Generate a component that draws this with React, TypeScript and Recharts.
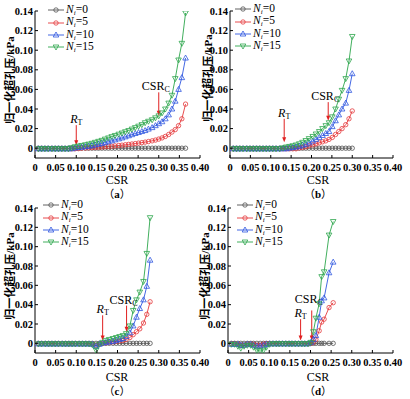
import React from "react";
import { LineChart, Line, XAxis, YAxis, ReferenceLine } from "recharts";

// CSR steps
const csrA = [0.008, 0.016, 0.024, 0.032, 0.041, 0.049, 0.057, 0.065, 0.073, 0.081, 0.089, 0.097, 0.105, 0.113, 0.122, 0.130, 0.138, 0.146, 0.154, 0.162, 0.170, 0.178, 0.186, 0.194, 0.203, 0.211, 0.219, 0.227, 0.235, 0.243, 0.251, 0.259, 0.267, 0.275, 0.284, 0.292, 0.300, 0.308, 0.316, 0.324, 0.332, 0.340, 0.348, 0.356, 0.365];
const csrB = [0.008, 0.016, 0.024, 0.032, 0.041, 0.049, 0.057, 0.065, 0.073, 0.081, 0.089, 0.097, 0.105, 0.113, 0.122, 0.130, 0.138, 0.146, 0.154, 0.162, 0.170, 0.178, 0.186, 0.194, 0.203, 0.211, 0.219, 0.227, 0.235, 0.243, 0.251, 0.259, 0.267, 0.275, 0.284, 0.292, 0.300];
const csrC = [0.008, 0.016, 0.025, 0.033, 0.041, 0.049, 0.057, 0.066, 0.074, 0.082, 0.090, 0.098, 0.107, 0.115, 0.123, 0.131, 0.139, 0.148, 0.156, 0.164, 0.172, 0.180, 0.189, 0.197, 0.205, 0.213, 0.221, 0.230, 0.238, 0.246, 0.254, 0.263, 0.271, 0.279];
const csrD = [0.008, 0.016, 0.024, 0.031, 0.039, 0.047, 0.055, 0.062, 0.070, 0.078, 0.086, 0.093, 0.101, 0.109, 0.117, 0.124, 0.132, 0.140, 0.148, 0.155, 0.163, 0.171, 0.179, 0.186, 0.194, 0.201, 0.207, 0.213, 0.221, 0.227, 0.233, 0.245, 0.255];

// (a)
const a0 = [0, 0, 0, 0, 0, 0, 0, 0, 0, 0, 0, 0, 0, 0, 0, 0, 0, 0, 0, 0, 0, 0, 0, 0, 0, 0, 0, 0, 0, 0, 0, 0, 0, 0, 0, 0, 0, 0, 0, 0, 0, 0, 0, 0, 0];
const a5 = [-0.0006, -0.0006, -0.0006, -0.0006, -0.0006, -0.0006, -0.0006, -0.0006, -0.0006, -0.0006, -0.0006, -0.0006, -0.0004, 0, 0.0002, 0.0004, 0.0006, 0.0008, 0.001, 0.0012, 0.0015, 0.0018, 0.002, 0.0024, 0.0028, 0.0031, 0.0035, 0.0039, 0.0043, 0.0047, 0.0052, 0.0057, 0.0062, 0.0068, 0.0075, 0.0083, 0.0093, 0.0105, 0.012, 0.014, 0.0165, 0.019, 0.023, 0.030, 0.045];
const a10 = [-0.0006, -0.0006, -0.0006, -0.0006, -0.0006, -0.0006, -0.0006, -0.0006, -0.0006, -0.0006, -0.0006, 0.0002, 0.0006, 0.001, 0.0015, 0.002, 0.0026, 0.0033, 0.004, 0.0048, 0.0057, 0.0066, 0.0075, 0.0085, 0.0095, 0.0105, 0.0116, 0.0127, 0.0138, 0.015, 0.016, 0.017, 0.018, 0.0195, 0.021, 0.023, 0.025, 0.027, 0.030, 0.034, 0.040, 0.048, 0.060, 0.072, 0.092];
const a15 = [-0.0006, -0.0006, -0.0006, -0.0006, -0.0006, -0.0006, -0.0006, -0.0006, -0.0006, -0.0006, 0.0005, 0.0015, 0.0022, 0.0028, 0.0035, 0.0042, 0.005, 0.006, 0.007, 0.008, 0.0093, 0.0105, 0.0118, 0.013, 0.0143, 0.0155, 0.0168, 0.018, 0.0195, 0.021, 0.0225, 0.024, 0.026, 0.0275, 0.029, 0.031, 0.033, 0.036, 0.040, 0.046, 0.054, 0.071, 0.090, 0.107, 0.138];

// (b)
const b0 = [0, 0, 0, 0, 0, 0, 0, 0, 0, 0, 0, 0, 0, 0, 0, 0, 0, 0, 0, 0, 0, 0, 0, 0, 0, 0, 0, 0, 0, 0, 0, 0, 0, 0, 0, 0, 0];
const b5 = [-0.0006, -0.0006, -0.0006, -0.0006, -0.0006, -0.0006, -0.0006, -0.0006, -0.0006, -0.0006, -0.0006, -0.0006, -0.0006, -0.0006, -0.0006, -0.0006, -0.0006, -0.0006, -0.0006, -0.0006, 0.0003, 0.0008, 0.0015, 0.0025, 0.0035, 0.0045, 0.0055, 0.0065, 0.0075, 0.009, 0.011, 0.014, 0.017, 0.020, 0.024, 0.030, 0.038];
const b10 = [-0.0006, -0.0006, -0.0006, -0.0006, -0.0006, -0.0006, -0.0006, -0.0006, -0.0006, -0.0006, -0.0006, -0.0006, -0.0006, -0.0006, -0.0006, -0.0006, -0.0006, 0.0002, 0.0006, 0.0012, 0.002, 0.003, 0.004, 0.0055, 0.0072, 0.009, 0.011, 0.013, 0.015, 0.017, 0.022, 0.028, 0.034, 0.040, 0.046, 0.059, 0.076];
const b15 = [-0.0006, -0.0006, -0.0006, -0.0006, -0.0006, -0.0006, -0.0006, -0.0006, -0.0006, -0.0006, -0.0006, -0.0006, -0.0006, -0.0006, -0.0006, 0.0003, 0.0012, 0.0018, 0.0025, 0.0033, 0.0045, 0.006, 0.0078, 0.0098, 0.012, 0.0145, 0.017, 0.020, 0.023, 0.026, 0.032, 0.040, 0.050, 0.059, 0.071, 0.089, 0.114];

// (c)
const c0 = [0, 0, 0, 0, 0, 0, 0, 0, 0, 0, 0, 0, 0, 0, 0, 0, 0, 0, 0, 0, 0, 0, 0, 0, 0, 0, 0, 0, 0, 0, 0, 0, 0, 0];
const c5 = [-0.0006, -0.0006, -0.0006, -0.0006, -0.0006, -0.0006, -0.0006, -0.0006, -0.0006, -0.0006, -0.0006, -0.0006, -0.0006, -0.0006, -0.0006, -0.0006, -0.001, -0.002, -0.001, 0, 0.0005, 0.001, 0.0015, 0.002, 0.0025, 0.003, 0.004, 0.006, 0.009, 0.012, 0.015, 0.021, 0.030, 0.043];
const c10 = [-0.0006, -0.0006, -0.0006, -0.0006, -0.0006, -0.0006, -0.0006, -0.0006, -0.0006, -0.0006, -0.0006, -0.0006, -0.0006, -0.0006, -0.0006, -0.0006, -0.001, -0.003, -0.001, 0.0003, 0.001, 0.0015, 0.002, 0.003, 0.004, 0.005, 0.007, 0.011, 0.018, 0.027, 0.036, 0.045, 0.059, 0.086];
const c15 = [-0.0006, -0.0006, -0.0006, -0.0006, -0.0006, -0.0006, -0.0006, -0.0006, -0.0006, -0.0006, -0.0006, -0.0006, -0.0006, -0.0006, -0.0006, -0.0006, -0.0015, -0.007, -0.001, 0.001, 0.003, 0.004, 0.005, 0.006, 0.007, 0.008, 0.010, 0.018, 0.034, 0.045, 0.053, 0.064, 0.093, 0.130];

// (d)
const d0 = [0, 0, 0, 0, 0, 0, 0, 0, 0, 0, 0, 0, 0, 0, 0, 0, 0, 0, 0, 0, 0, 0, 0, 0, 0, 0, 0, 0, 0, 0, 0, 0, 0];
const d5 = [-0.0005, -0.0005, -0.001, -0.002, -0.002, -0.001, -0.001, -0.001, -0.002, -0.002, -0.001, -0.0005, -0.0005, -0.0005, -0.0005, -0.0005, -0.0005, -0.0005, -0.0005, -0.0005, -0.0005, -0.0005, -0.0005, -0.0005, -0.0005, 0, 0.001, 0.004, 0.013, 0.022, 0.025, 0.037, 0.042];
const d10 = [-0.001, -0.001, -0.001, -0.002, -0.002, -0.001, -0.001, -0.002, -0.003, -0.003, -0.002, -0.001, -0.0005, -0.0005, -0.0005, -0.0005, -0.0005, -0.0005, -0.0005, -0.0005, -0.0005, -0.0005, -0.0005, -0.0005, -0.0005, 0.001, 0.004, 0.008, 0.027, 0.044, 0.047, 0.073, 0.084];
const d15 = [-0.001, -0.001, -0.003, -0.005, -0.003, -0.002, -0.002, -0.004, -0.007, -0.008, -0.007, -0.004, -0.001, -0.0005, -0.0005, -0.0005, -0.0005, -0.0005, -0.0005, -0.0005, -0.0005, -0.0005, -0.0005, -0.0005, -0.0005, 0.001, 0.012, 0.026, 0.041, 0.069, 0.074, 0.112, 0.126];

const xTicks = [0, 0.05, 0.1, 0.15, 0.2, 0.25, 0.3, 0.35, 0.4];
const yTicks = [0, 0.02, 0.04, 0.06, 0.08, 0.1, 0.12, 0.14];

const SERIES = [
  { key: "n0", label: "0", color: "#505050", shape: "circle" },
  { key: "n5", label: "5", color: "#e5393b", shape: "circle" },
  { key: "n10", label: "10", color: "#2f57e0", shape: "up" },
  { key: "n15", label: "15", color: "#2da64c", shape: "down" },
];

const toRows = (csr: number[], s0: number[], s5: number[], s10: number[], s15: number[]) =>
  csr.map((c, i) => ({ csr: c, n0: s0[i], n5: s5[i], n10: s10[i], n15: s15[i] }));

const SERIF = '"Liberation Serif", "Times New Roman", serif';
const CJK = '"Liberation Serif", "Noto Sans CJK SC", serif';

const marker = (shape: string, cx: number, cy: number, color: string, key?: string) => {
  if (shape === "up")
    return <path key={key} d={`M${cx},${cy - 3}L${cx + 2.8},${cy + 2}L${cx - 2.8},${cy + 2}Z`} fill="none" stroke={color} strokeWidth={0.8} />;
  if (shape === "down")
    return <path key={key} d={`M${cx},${cy + 3}L${cx + 2.8},${cy - 2}L${cx - 2.8},${cy - 2}Z`} fill="none" stroke={color} strokeWidth={0.8} />;
  return <circle key={key} cx={cx} cy={cy} r={2.2} fill="none" stroke={color} strokeWidth={0.8} />;
};

const YTick = (p: any) => {
  const { x, y, payload } = p;
  const v = payload.value;
  return (
    <g>
      <line x1={x + 2} x2={x + 5} y1={y} y2={y} stroke="#000" />
      <text x={x} y={y} dy={3.5} textAnchor="end" fontSize={10.5} fontWeight="bold" fontFamily={SERIF} fill="#000">
        {v === 0 ? "0" : v.toFixed(2)}
      </text>
    </g>
  );
};

const XTick = (p: any) => {
  const { x, y, payload } = p;
  const v = payload.value;
  return (
    <g>
      <line x1={x} x2={x} y1={y - 3} y2={y - 6} stroke="#000" />
      <text x={x} y={y} dy={10} textAnchor="middle" fontSize={10.5} fontWeight="bold" fontFamily={SERIF} fill="#000">
        {v === 0 ? "0" : v.toFixed(2)}
      </text>
    </g>
  );
};

const renderArrow = (sp: any, kind: string, lift: number) => {
  const { x1, y1, x2, y2 } = sp;
  return (
    <g>
      <line x1={x1} y1={y1} x2={x2} y2={y2 - 4} stroke="#e02020" strokeWidth={1} />
      <path d={`M${x2 - 2},${y2 - 5}L${x2 + 2},${y2 - 5}L${x2},${y2}Z`} fill="#e02020" />
      {kind === "RT" ? (
        <text x={x1} y={y1 - 2 - lift} textAnchor="middle" fontSize={12} fontFamily={SERIF} fill="#000">
          <tspan fontStyle="italic">R</tspan>
          <tspan fontSize={8} dy={2}>T</tspan>
        </text>
      ) : (
        <text x={x1 - 3} y={y1 - 2 - lift} textAnchor="middle" fontSize={12} fontFamily={SERIF} fill="#000">
          CSR<tspan fontSize={8} dy={2}>C</tspan>
        </text>
      )}
    </g>
  );
};

const PANELS = [
  {
    left: 0, top: 0, width: 215, height: 200, yWidth: 35,
    margin: { top: 11, right: 15, bottom: 22, left: 0 },
    rows: toRows(csrA, a0, a5, a10, a15),
    arrows: [{ kind: "RT", x: 0.1, y1: 0.0235, y2: 0.003, lift: 0 }, { kind: "C", x: 0.3, y1: 0.057, y2: 0.033, lift: 0 }],
    legend: { x: 48, y: 4 }, ylab: { x: 9, y: 80 }, cap: { x: 117, y: 180 }, letter: "a",
  },
  {
    left: 205, top: 0, width: 205, height: 200, yWidth: 25,
    margin: { top: 11, right: 17, bottom: 22, left: 0 },
    rows: toRows(csrB, b0, b5, b10, b15),
    arrows: [{ kind: "RT", x: 0.133, y1: 0.03, y2: 0.006, lift: 0 }, { kind: "C", x: 0.241, y1: 0.047, y2: 0.028, lift: 0 }],
    legend: { x: 235, y: 3 }, ylab: { x: 207, y: 78 }, cap: { x: 318, y: 180 }, letter: "b",
  },
  {
    left: 0, top: 200, width: 215, height: 199, yWidth: 35,
    margin: { top: 8, right: 15, bottom: 26, left: 0 },
    rows: toRows(csrC, c0, c5, c10, c15),
    arrows: [{ kind: "RT", x: 0.164, y1: 0.029, y2: 0.003, lift: 0 }, { kind: "C", x: 0.222, y1: 0.039, y2: 0.012, lift: 0 }],
    legend: { x: 43, y: 199 }, ylab: { x: 9, y: 276 }, cap: { x: 117, y: 377 }, letter: "c",
  },
  {
    left: 205, top: 200, width: 205, height: 199, yWidth: 23,
    margin: { top: 8, right: 17, bottom: 26, left: 0 },
    rows: toRows(csrD, d0, d5, d10, d15),
    arrows: [{ kind: "RT", x: 0.176, y1: 0.025, y2: 0.003, lift: 0 }, { kind: "C", x: 0.203, y1: 0.034, y2: 0.003, lift: 5 }],
    legend: { x: 237, y: 199 }, ylab: { x: 204, y: 276 }, cap: { x: 318, y: 377 }, letter: "d",
  },
];

const Legend4 = ({ x, y }: { x: number; y: number }) => (
  <div style={{ position: "absolute", left: x, top: y, fontFamily: SERIF, fontSize: 11.5, lineHeight: "12.4px" }}>
    {SERIES.map((s) => (
      <div key={s.key} style={{ height: 12.4, display: "flex", alignItems: "center", whiteSpace: "nowrap" }}>
        <svg width={16} height={8}>
          <line x1={0} x2={16} y1={4} y2={4} stroke={s.color} strokeWidth={0.9} />
          {marker(s.shape, 8, 4, s.color)}
        </svg>
        <span style={{ marginLeft: 2 }}>
          <i>N</i>
          <i style={{ fontSize: 7, position: "relative", top: 2 }}>i</i>={s.label}
        </span>
      </div>
    ))}
  </div>
);

const centered = (x: number, y: number, extra: React.CSSProperties = {}): React.CSSProperties => ({
  position: "absolute", left: x, top: y, transform: "translate(-50%, -50%)", whiteSpace: "nowrap", ...extra,
});

const App = () => (
  <div style={{ position: "absolute", left: 0, top: 0, width: 410, height: 399, background: "#fff" }}>
    {PANELS.map((p) => (
      <div key={p.letter} style={{ position: "absolute", left: p.left, top: p.top }}>
        <LineChart width={p.width} height={p.height} data={p.rows} margin={p.margin}>
          <XAxis dataKey="csr" type="number" domain={[0, 0.4]} ticks={xTicks} interval={0} allowDataOverflow
            height={20} axisLine={{ stroke: "#000" }} tickLine={false} tickSize={0} tickMargin={3} tick={XTick} />
          <YAxis type="number" domain={[-0.01, 0.14]} ticks={yTicks} interval={0} allowDataOverflow
            width={p.yWidth} axisLine={{ stroke: "#000" }} tickLine={false} tickSize={0} tickMargin={2} tick={YTick} />
          {SERIES.map((s) => (
            <Line key={s.key} dataKey={s.key} type="linear" stroke={s.color} strokeWidth={0.9}
              isAnimationActive={false} activeDot={false}
              dot={(d: any) => (d.cy == null ? <g key={`${s.key}-${d.index}`} /> : marker(s.shape, d.cx, d.cy, s.color, `${s.key}-${d.index}`))} />
          ))}
          {p.arrows.map((a) => (
            <ReferenceLine key={a.kind} segment={[{ x: a.x, y: a.y1 }, { x: a.x, y: a.y2 }]} stroke="#e02020"
              shape={(sp: any) => renderArrow(sp, a.kind, a.lift)} />
          ))}
        </LineChart>
      </div>
    ))}
    {PANELS.map((p) => (
      <React.Fragment key={`t-${p.letter}`}>
        <Legend4 x={p.legend.x} y={p.legend.y} />
        <div style={centered(p.ylab.x, p.ylab.y, { transform: "translate(-50%, -50%) rotate(-90deg)", fontFamily: CJK, fontSize: 11, fontWeight: "bold" })}>
          归一化超孔压/kPa
        </div>
        <div style={centered(p.cap.x, p.cap.y, { fontFamily: SERIF, fontSize: 12 })}>CSR</div>
        <div style={centered(p.cap.x, p.cap.y + 13, { fontFamily: '"Noto Sans CJK SC", sans-serif', fontSize: 11 })}>
          （<span style={{ fontFamily: SERIF, fontWeight: "bold" }}>{p.letter}</span>）
        </div>
      </React.Fragment>
    ))}
  </div>
);

export default App;
